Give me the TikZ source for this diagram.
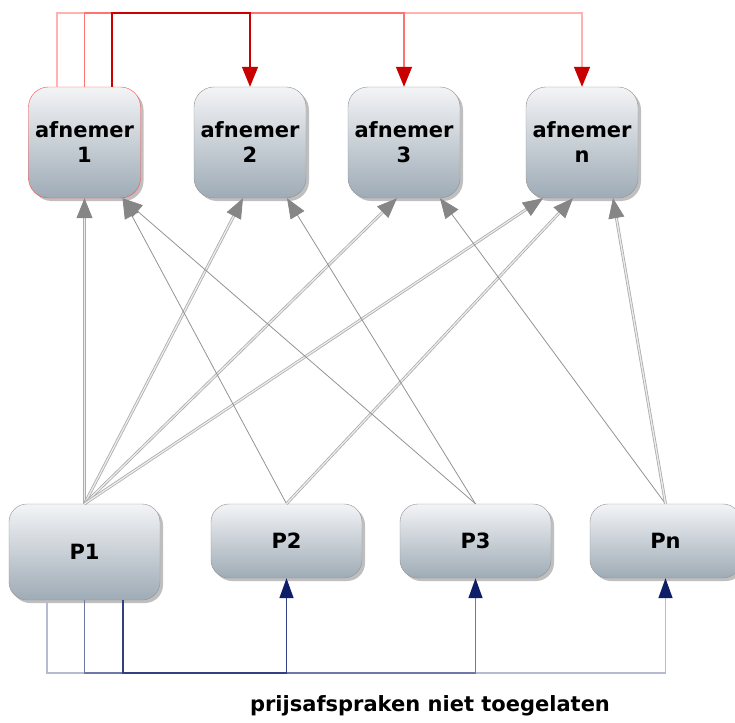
\documentclass[tikz,border=0pt]{standalone}
\usepackage{fontspec}
\setmainfont{DejaVu Sans}
\usetikzlibrary{arrows.meta,shadows}

\definecolor{boxtop}{RGB}{243,244,246}
\definecolor{boxbot}{RGB}{158,171,182}
\definecolor{tipred}{RGB}{200,0,0}
\definecolor{tipnavy}{RGB}{15,30,105}

\tikzset{
	box/.style={draw=gray!85, top color=boxtop, bottom color=boxbot, inner sep=0pt, align=center,
		drop shadow={shadow xshift=3pt, shadow yshift=-3pt, opacity=.5},
		font=\fontsize{21}{25}\selectfont\bfseries},
	afn/.style={box, rounded corners=20pt, minimum width=112pt, minimum height=111pt},
	prod/.style={box, rounded corners=18pt, minimum width=151pt, minimum height=74pt},
	link/.style={draw=gray!85, line width=.8pt, -{Triangle[length=20pt,width=16pt,color=gray!95,fill=gray!95]}},
	dlink/.style={link, draw=gray!65, double=gray!15, double distance=1.3pt},
	redlink/.style={line width=1.5pt, -{Triangle[length=20pt,width=16pt,color=tipred,fill=tipred]}},
	navylink/.style={line width=1.5pt, -{Triangle[length=20pt,width=14pt,color=tipnavy,fill=tipnavy]}}
}

\begin{document}
\begin{tikzpicture}[x=1pt,y=-1pt]
	\useasboundingbox (0,0) rectangle (735,722);

	% afnemers
	\node[afn, draw=red!70] (A1) at (84.5,142.5) {afnemer\\1};
	\node[afn] (A2) at (250,142.5) {afnemer\\2};
	\node[afn] (A3) at (404,142.5) {afnemer\\3};
	\node[afn] (An) at (582,142.5) {afnemer\\n};

	% producenten
	\node[prod, minimum height=96pt] (P1) at (84.5,552) {P1};
	\node[prod] (P2) at (286.5,541) {P2};
	\node[prod] (P3) at (475.5,541) {P3};
	\node[prod] (Pn) at (665.5,541) {Pn};

	\node[font=\fontsize{21}{25}\selectfont\bfseries, anchor=base] (note) at (430,711) {prijsafspraken niet toegelaten};

	% leveringen
	\draw[dlink] (P1.north) -- (A1.south);
	\draw[dlink] (P1.north) -- ([xshift=-7pt]A2.south);
	\draw[dlink] (P1.north) -- ([xshift=-7pt]A3.south);
	\draw[dlink] (P1.north) -- ([xshift=-39pt]An.south);
	\draw[link] (P2.north) -- ([xshift=38pt]A1.south);
	\draw[dlink] (P2.north) -- ([xshift=-9pt]An.south);
	\draw[link] (P3.north) -- ([xshift=38pt]A1.south);
	\draw[link] (P3.north) -- ([xshift=37pt]A2.south);
	\draw[link] (Pn.north) -- ([xshift=36pt]A3.south);
	\draw[dlink] (Pn.north) -- ([xshift=31pt]An.south);

	% afnemer 1 boven
	\draw[redlink, red!30] ([xshift=-27.5pt]A1.north) |- ([yshift=74pt]An.north) -- (An.north);
	\draw[redlink, red!55] (A1.north) |- ([yshift=74pt]A3.north) -- (A3.north);
	\draw[redlink, red!80!black] ([xshift=27.5pt]A1.north) |- ([yshift=74pt]A2.north) -- (A2.north);

	% P1 onder
	\draw[navylink, tipnavy!30] ([xshift=-37.5pt]P1.south) |- ([yshift=-95pt]Pn.south) -- (Pn.south);
	\draw[navylink, tipnavy!60] (P1.south) |- ([yshift=-95pt]P3.south) -- (P3.south);
	\draw[navylink, tipnavy!85] ([xshift=38.5pt]P1.south) |- ([yshift=-95pt]P2.south) -- (P2.south);
\end{tikzpicture}
\end{document}
